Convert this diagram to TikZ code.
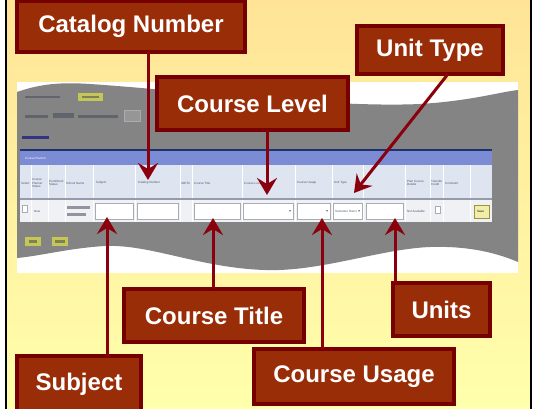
\documentclass[tikz,border=0pt]{standalone}
\usepackage{fontspec}
\setmainfont{Liberation Sans}
\setsansfont{Liberation Sans}
\usetikzlibrary{arrows.meta,calc}
\definecolor{boxfill}{RGB}{153,45,8}
\definecolor{boxedge}{RGB}{118,0,0}
\definecolor{arrowred}{RGB}{138,0,12}
\definecolor{bandgray}{RGB}{132,132,132}
\definecolor{titlebar}{RGB}{124,140,212}
\definecolor{headrow}{RGB}{222,228,240}
\definecolor{datarow}{RGB}{240,241,245}
\definecolor{btnolive}{RGB}{196,198,86}
\definecolor{navyline}{RGB}{30,50,110}
\definecolor{sepgray}{RGB}{150,155,170}
\definecolor{inputedge}{RGB}{170,172,180}
\definecolor{tinygray}{RGB}{80,85,100}
\definecolor{blurgray}{RGB}{70,74,90}
\definecolor{topyellow}{RGB}{255,228,150}
\definecolor{bottomyellow}{RGB}{255,255,172}
\definecolor{savefill}{RGB}{240,238,170}
\definecolor{saveedge}{RGB}{150,150,60}
\definecolor{fieldgray}{RGB}{150,150,150}
\begin{document}
\begin{tikzpicture}
[x=1pt,y=-1pt,
  labelbox/.style={draw=boxedge,line width=3.5pt,fill=boxfill,text=white,
    font=\fontsize{24}{28}\selectfont\bfseries,inner sep=0pt,outer sep=0pt},%
  arrowline/.style={draw=arrowred,line width=3pt,
    -{Stealth[length=17pt,width=20pt,inset=6pt]}},%
  inputbox/.style={draw=inputedge,line width=0.5pt,fill=white},%
  tinytext/.style={font=\fontsize{3}{3.4}\selectfont,text=tinygray,
    inner sep=0pt,anchor=west,align=left},%
  blurbar/.style={fill=blurgray,opacity=0.55}]
\useasboundingbox (0,0) rectangle (543,409);
%% page background and frame
\fill[white] (0,0) rectangle (543,409);
\shade[top color=topyellow,bottom color=bottomyellow] (6,0) rectangle (531,409);
\draw[line width=2.5pt] (6,0) -- (6,409) (531,0) -- (531,409);
%% screenshot: white sheet with torn gray band
\fill[white] (17,82) rectangle (518,273);
\fill[bandgray] (17,92) .. controls (40,84) and (60,82) .. (90,84)
  .. controls (180,90) and (330,108) .. (420,104)
  .. controls (470,101) and (500,92) .. (518,90) -- (518,262)
  .. controls (490,250) and (460,246) .. (430,247)
  .. controls (380,249) and (320,272) .. (265,270)
  .. controls (200,268) and (150,244) .. (105,246)
  .. controls (70,248) and (40,256) .. (17,258) -- cycle;
%% controls above the table
\fill[blurbar] (25,96) rectangle (60,98.5);
\fill[btnolive] (78,93) rectangle (103,101);
\fill[blurbar] (82,96) rectangle (99,98);
\fill[blurbar] (25,115) rectangle (48,118);
\fill[blurbar] (53,113) rectangle (74,118);
\fill[blurbar] (78,115) rectangle (118,118);
\draw[inputbox,fill=fieldgray] (124,110) rectangle (140,121);
\fill[blue!50!black,opacity=0.6] (22,136) rectangle (49,139);
%% table
\fill[titlebar] (20,151) rectangle (492,165);
\draw[line width=1.2pt,navyline] (20,150) -- (492,150);
\node[tinytext,text=white] (plantitle) at (25,158) {Course Planner};
\fill[headrow] (20,165) rectangle (492,198);
\fill[sepgray] (20,198) rectangle (492,200);
\fill[datarow] (20,200) rectangle (492,222);
\foreach \colx in {31,48,65,93,135,180,192,242,295,332,363,405,430,443,470}
  \draw[white,line width=0.8pt] (\colx,165) -- (\colx,198) (\colx,200) -- (\colx,222);
%% header texts
\foreach \colname/\x/\colhead in {
  hsel/21/Select, hstat/32/Course\\Planner\\Status, henr/49/Enrollment\\Status,
  hschool/66/School Name, hsubj/96/Subject, hcat/138/Catalog Number,
  higetc/181/IGETC, htitle/194/Course Title, hlevel/244/Course Level,
  husage/297/Course Usage, htype/334/Unit Type, hplan/407/Plan Course\\Details,
  htrans/431/Transfer\\Credit, hcomm/445/Comment}
{
  \node[tinytext] (\colname) at (\x,183) {\colhead};
}
%% data row
\draw[inputbox] (22,205) rectangle (27,212);
\node[tinytext] (newtag) at (34,211) {New};
\fill[blurbar] (67,206) rectangle (90,208.5);
\fill[blurbar] (67,213) rectangle (86,215.5);
\foreach \ax/\bx/\hasdrop in {95/133/0,137/178/0,194/240/0,243/293/1,297/330/1,333/362/1,366/403/0}
{
  \draw[inputbox] (\ax,203) rectangle (\bx,219);
  \ifnum\hasdrop=1 \fill[gray] (\bx-4,210) -- (\bx-2,210) -- (\bx-3,212) -- cycle; \fi
}
\node[tinytext] (semhour) at (335,211) {Semester Hours};
\node[tinytext] (notavail) at (407,211) {Not Available};
\draw[inputbox] (435,206) rectangle (440,213);
\draw[fill=savefill,draw=saveedge] (474,205) rectangle (489,218);
\node[tinytext,text=black] (savebtn) at (477,211.5) {Save};
%% buttons below the table
\fill[btnolive] (25,237) rectangle (41,246);
\fill[btnolive] (52,237) rectangle (68,246);
\fill[blurbar] (29,240) rectangle (37,243);
\fill[blurbar] (55,240) rectangle (65,243);
%% label boxes
\foreach \boxname/\x/\y/\w/\h/\boxtext in {
  catnum/131/26.5/228/51/Catalog Number, unittype/430/50/146/48/Unit Type,
  courselevel/252.5/103.5/191/53/Course Level, coursetitle/214/315.5/180/53/Course Title,
  units/441.5/309.5/97/53/Units, subject/79/384/124/56/Subject,
  courseusage/354/376.5/200/55/Course Usage}
{
  \node (\boxname) at (\x,\y) [labelbox,minimum width=\w pt,minimum height=\h pt] {\boxtext};
}
%% arrows from the boxes to the fields
\foreach \boxname/\tipx/\tipy/\side in {
  catnum/148/180/south, courselevel/267/195/south,
  subject/107/217/north, coursetitle/213/218/north,
  courseusage/322/218/north, units/395/218/north}
{
  \coordinate (\boxname tip) at (\tipx,\tipy);
  \draw[arrowline] (\boxname.\side -| \boxname tip) -- (\boxname tip);
}
\coordinate (unittypetip) at (354,193);
\draw[arrowline] ($(unittype.south)+(18,0)$) -- (unittypetip);
\end{tikzpicture}
\end{document}
